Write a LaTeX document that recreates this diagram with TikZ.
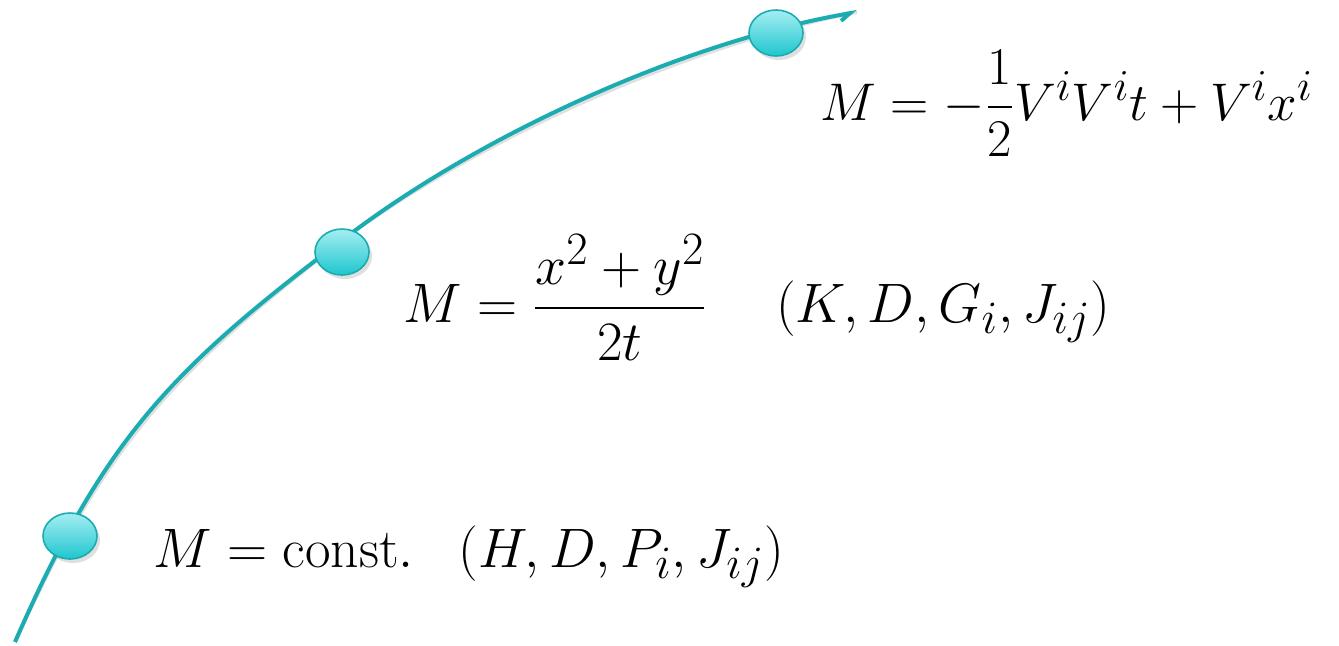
\documentclass[tikz,border=0pt]{standalone}
\usepackage{amsmath}
\usetikzlibrary{arrows.meta,shadows,shapes.geometric}
\definecolor{teal1}{RGB}{26,172,176}
\definecolor{balltop}{RGB}{165,238,242}
\definecolor{ballbot}{RGB}{30,198,206}
\tikzset{
  ball/.style={ellipse, minimum width=27pt, minimum height=23pt, inner sep=0pt,
    draw=teal1, line width=0.8pt, top color=balltop, bottom color=ballbot,
    drop shadow={opacity=0.25, shadow xshift=1.5pt, shadow yshift=-2pt}},
  formula/.style={anchor=base west, inner sep=0pt, font=\Huge},
  curve/.style={draw=teal1, line width=2pt}
}
\begin{document}
\begin{tikzpicture}[x=0.5pt,y=-0.5pt]
\useasboundingbox (0,0) rectangle (1339,645);
\coordinate (start) at (15,642);
\coordinate (mid) at (353,232);
\coordinate (tip) at (857,12);
\draw[gray!40, line width=2pt, opacity=0.6, shift={(2,3)}] (start) .. controls (105,436) and (173,367) .. (mid) .. controls (491,129) and (690,41) .. (tip);
\draw[curve, -{Straight Barb[right,length=5pt,width=6pt]}] (start) .. controls (105,436) and (173,367) .. (mid) .. controls (491,129) and (690,41) .. (tip);
\node[ball] (b1) at (70,536) {};
\node[ball] (b2) at (342,252) {};
\node[ball] (b3) at (776,33) {};
\node[formula, scale=1.065] (f3) at (820,120) {$M = -\dfrac{1}{2}V^iV^it + V^ix^i$};
\node[formula, scale=1.117] (f2) at (403,322) {$M = \dfrac{x^2+y^2}{2t} \hspace{31pt} (K,D,G_i,J_{ij})$};
\node[formula, scale=1.117] (f1) at (153,567) {$M = \mathrm{const.} \hspace{20pt} (H,D,P_i,J_{ij})$};
\end{tikzpicture}
\end{document}
